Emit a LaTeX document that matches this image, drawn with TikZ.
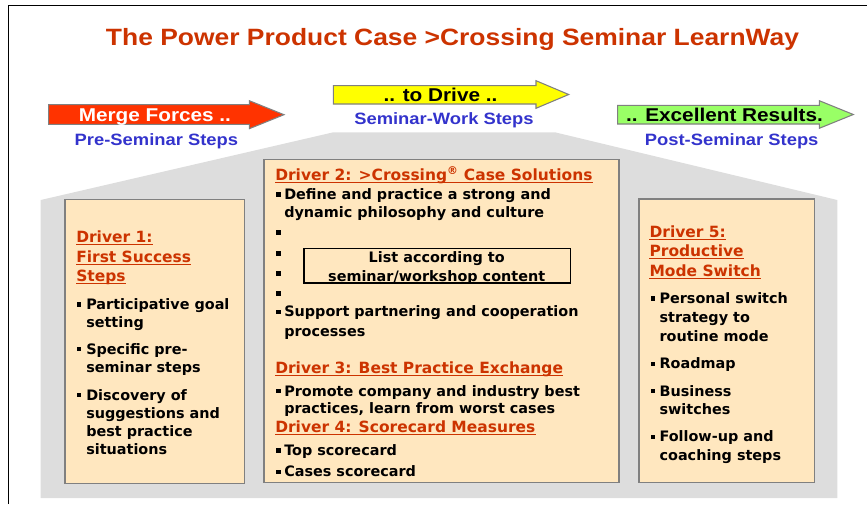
\documentclass[tikz,border=0pt]{standalone}
\usepackage{fontspec}
\setmainfont{DejaVu Sans}
\newfontfamily\capfont[FakeStretch=1.12]{Liberation Sans}
\usetikzlibrary{positioning}

\definecolor{drvred}{RGB}{204,51,0}
\definecolor{stepblue}{RGB}{51,51,204}
\definecolor{arrowred}{RGB}{255,51,0}
\definecolor{arrowyellow}{RGB}{255,255,0}
\definecolor{arrowgreen}{RGB}{153,255,102}
\definecolor{boxfill}{RGB}{255,231,191}
\definecolor{housegray}{RGB}{221,221,221}
\definecolor{edgegray}{RGB}{128,128,128}

\tikzset{
    maintitle/.style={anchor=base, inner sep=0pt, text=drvred, font=\capfont\bfseries\fontsize{17.7}{20}\selectfont},
    arrowlabel/.style={anchor=base, inner sep=0pt, font=\capfont\bfseries\fontsize{13.9}{16}\selectfont},
    steplabel/.style={anchor=base, inner sep=0pt, text=stepblue, font=\capfont\bfseries\fontsize{12.3}{14}\selectfont},
    arrowshape/.style={draw=edgegray, line width=0.8pt},
    driverbox/.style={draw=edgegray, line width=1pt, fill=boxfill, anchor=north west, inner sep=0pt},
    listbox/.style={draw=black, line width=1pt, anchor=north west, inner sep=0pt},
    drvhead/.style={anchor=base west, inner sep=0pt, text=drvred, font=\bfseries\fontsize{11.6}{14}\selectfont},
    itemtext/.style={anchor=base west, inner sep=0pt, font=\bfseries\fontsize{10.8}{13}\selectfont},
    listtext/.style={anchor=base, inner sep=0pt, font=\bfseries\fontsize{10.8}{13}\selectfont},
    itembullet/.style={fill=black, inner sep=0pt, minimum size=3.3pt},
    drvrule/.style={draw=drvred, line width=0.9pt}
}
\newcommand\drvline[1]{\draw[drvrule] ([yshift=-1.6pt]#1.base west) -- ([yshift=-1.6pt]#1.base east);}

\begin{document}
\begin{tikzpicture}[x=0.75pt, y=-0.75pt]
    \useasboundingbox (0,0) rectangle (867,504);
    % frame
    \draw[line width=1pt] (8.3,504) -- (8.3,5.7) -- (867,5.7);
    \node[maintitle] (title) at (452.5,45.7) {The Power Product Case >Crossing Seminar LearnWay};

    % step arrows
    \draw[arrowshape, fill=arrowred] (48.7,104.7) -- (249.3,104.7) -- (249.3,100.7) -- (284,114.7)
        -- (249.3,128.7) -- (249.3,124.3) -- (48.7,124.3) -- cycle;
    \draw[arrowshape, fill=arrowyellow] (333.3,85.7) -- (536,85.7) -- (536,80.7) -- (568.7,94.5)
        -- (536,108.3) -- (536,104) -- (333.3,104) -- cycle;
    \draw[arrowshape, fill=arrowgreen] (617.7,105.3) -- (819.3,105.3) -- (819.3,100.7) -- (853.3,114.5)
        -- (819.3,128.3) -- (819.3,124) -- (617.7,124) -- cycle;
    \node[arrowlabel, text=white] (merge) at (154.9,121.7) {Merge Forces ..};
    \node[arrowlabel] (drive) at (440.5,101.7) {.. to Drive ..};
    \node[arrowlabel] (results) at (724.5,121.7) {.. Excellent Results.};
    \node[steplabel] (pre) at (156.4,145) {Pre-Seminar Steps};
    \node[steplabel] (work) at (444,124.3) {Seminar-Work Steps};
    \node[steplabel] (post) at (731.7,145) {Post-Seminar Steps};

    % house
    \fill[housegray] (333.3,132.3) -- (555,132.3) -- (837.3,200) -- (837.3,498)
        -- (40.7,498) -- (40.7,200) -- cycle;

    % driver boxes
    \node[driverbox, minimum width=134.55pt, minimum height=212.8pt] (box1) at (64.3,199) {};
    \node[driverbox, minimum width=266.25pt, minimum height=242pt] (box2) at (263.3,159) {};
    \node[driverbox, minimum width=131.8pt, minimum height=212.55pt] (box5) at (638.3,198.3) {};
    \node[listbox, minimum width=200pt, minimum height=25.95pt] (list) at (303.3,247.7) {};

    % driver 1
    \node[drvhead] (h1a) at (76,242.7) {Driver 1:};
    \node[drvhead] (h1b) at (76,262.3) {First Success};
    \node[drvhead] (h1c) at (76,281.7) {Steps};
    \drvline{h1a} \drvline{h1b} \drvline{h1c}
    \node[itembullet] (q1a) at (79,304.5) {};
    \node[itemtext] (i1a) at (86,309.3) {Participative goal};
    \node[itemtext] (i1b) at (86,327.3) {setting};
    \node[itembullet] (q1c) at (79,349.2) {};
    \node[itemtext] (i1c) at (86,354) {Specific pre-};
    \node[itemtext] (i1d) at (86,372.7) {seminar steps};
    \node[itembullet] (q1e) at (79,395.2) {};
    \node[itemtext] (i1e) at (86,400) {Discovery of};
    \node[itemtext] (i1f) at (86,418.7) {suggestions and};
    \node[itemtext] (i1g) at (86,436.7) {best practice};
    \node[itemtext] (i1h) at (86,454.7) {situations};

    % driver 2 to 4
    \node[drvhead] (h2) at (275,180) {Driver 2: >Crossing\textsuperscript{®} Case Solutions};
    \drvline{h2}
    \node[itembullet] (q2a) at (278.3,194.5) {};
    \node[itemtext] (i2a) at (284,199.3) {Define and practice a strong and};
    \node[itemtext] (i2b) at (284,217.3) {dynamic philosophy and culture};
    \node[itembullet] (q2c) at (278.3,232.3) {};
    \node[itembullet] (q2d) at (278.3,253.3) {};
    \node[itembullet] (q2e) at (278.3,273.3) {};
    \node[itembullet] (q2f) at (278.3,293.3) {};
    \node[listtext] (l1) at (436.7,262.7) {List according to};
    \node[listtext] (l2) at (436.7,281.7) {seminar/workshop content};
    \node[itembullet] (q2g) at (278.3,311.9) {};
    \node[itemtext] (i2g) at (284,316.7) {Support partnering and cooperation};
    \node[itemtext] (i2h) at (284,336) {processes};
    \node[drvhead] (h3) at (275,373.3) {Driver 3: Best Practice Exchange};
    \drvline{h3}
    \node[itembullet] (q3a) at (278.3,391.2) {};
    \node[itemtext] (i3a) at (284,396) {Promote company and industry best};
    \node[itemtext] (i3b) at (284,413.3) {practices, learn from worst cases};
    \node[drvhead] (h4) at (275,432.3) {Driver 4: Scorecard Measures};
    \drvline{h4}
    \node[itembullet] (q4a) at (278.3,450.5) {};
    \node[itemtext] (i4a) at (284,455.3) {Top scorecard};
    \node[itembullet] (q4b) at (278.3,471.9) {};
    \node[itemtext] (i4b) at (284,476.7) {Cases scorecard};

    % driver 5
    \node[drvhead] (h5a) at (649.3,237.3) {Driver 5:};
    \node[drvhead] (h5b) at (649.3,256.7) {Productive};
    \node[drvhead] (h5c) at (649.3,276.7) {Mode Switch};
    \drvline{h5a} \drvline{h5b} \drvline{h5c}
    \node[itembullet] (q5a) at (653,298.5) {};
    \node[itemtext] (i5a) at (659.3,303.3) {Personal switch};
    \node[itemtext] (i5b) at (659.3,322.7) {strategy to};
    \node[itemtext] (i5c) at (659.3,341.3) {routine mode};
    \node[itembullet] (q5d) at (653,363.8) {};
    \node[itemtext] (i5d) at (659.3,368.3) {Roadmap};
    \node[itembullet] (q5e) at (653,391.2) {};
    \node[itemtext] (i5e) at (659.3,396) {Business};
    \node[itemtext] (i5f) at (659.3,414.3) {switches};
    \node[itembullet] (q5g) at (653,436.9) {};
    \node[itemtext] (i5g) at (659.3,441.7) {Follow-up and};
    \node[itemtext] (i5h) at (659.3,460) {coaching steps};
\end{tikzpicture}
\end{document}
